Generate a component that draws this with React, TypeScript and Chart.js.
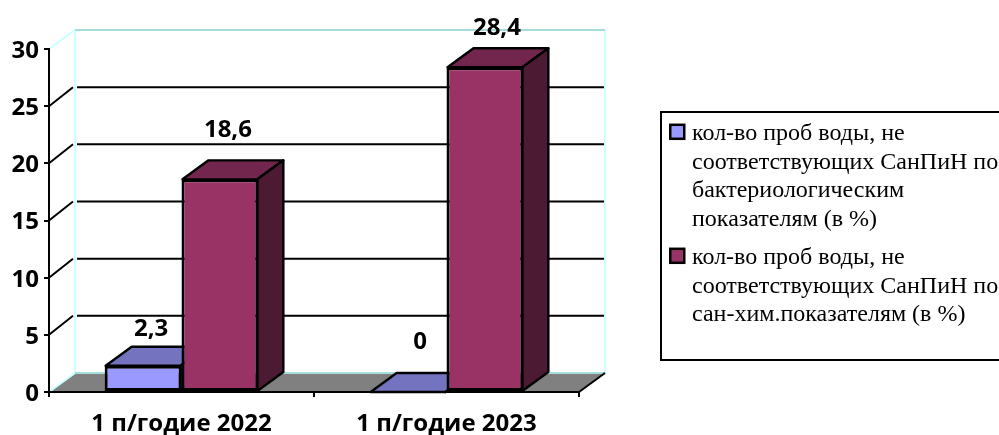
import React, { useEffect, useRef } from "react";
import { Chart, registerables } from "chart.js";

Chart.register(...registerables);

const categories = ["1 п/годие 2022", "1 п/годие 2023"];
const bacteriological = [2.3, 0];
const chemical = [18.6, 28.4];
const valueLabels = [["2,3", "0"], ["18,6", "28,4"]];
const yTicks = [0, 5, 10, 15, 20, 25, 30];
const legendBacterio = ["кол-во проб воды, не", "соответствующих СанПиН по", "бактериологическим", "показателям (в %)"];
const legendChem = ["кол-во проб воды, не", "соответствующих СанПиН по", "сан-хим.показателям (в %)"];

const DX = 26;
const DY = 19;
const BOLD = '"Open Sans", sans-serif';
const SERIF = '"Liberation Serif", serif';

const labelOffsets = [[[8, -30], [12, -43]], [[8, -42], [12, -32]]];

const scene = {
  id: "scene",
  beforeDraw(chart: any) {
    const { ctx, chartArea: a, scales } = chart;
    const y = scales.y;
    ctx.save();
    // floor
    ctx.fillStyle = "#808080";
    ctx.beginPath();
    ctx.moveTo(a.left, a.bottom);
    ctx.lineTo(a.left + DX, a.bottom - DY);
    ctx.lineTo(a.right + DX, a.bottom - DY);
    ctx.lineTo(a.right, a.bottom);
    ctx.closePath();
    ctx.fill();
    // walls
    ctx.lineWidth = 2;
    ctx.strokeStyle = "#ccffff";
    ctx.beginPath();
    ctx.moveTo(a.left, a.top);
    ctx.lineTo(a.left + DX, a.top - DY);
    ctx.lineTo(a.left + DX, a.bottom - DY);
    ctx.lineTo(a.left, a.bottom);
    ctx.moveTo(a.right + DX, a.top - DY);
    ctx.lineTo(a.right + DX, a.bottom - DY);
    ctx.stroke();
    ctx.strokeStyle = "#a6dcdc";
    ctx.beginPath();
    ctx.moveTo(a.left + DX, a.top - DY);
    ctx.lineTo(a.right + DX, a.top - DY);
    ctx.moveTo(a.left + DX, a.bottom - DY);
    ctx.lineTo(a.right + DX, a.bottom - DY);
    ctx.stroke();
    // gridlines
    ctx.strokeStyle = "#000";
    for (const v of yTicks) {
      if (v === 0 || v === 30) continue;
      const py = y.getPixelForValue(v);
      ctx.beginPath();
      ctx.moveTo(a.left, py);
      ctx.lineTo(a.left + DX - 2, py - DY);
      ctx.moveTo(a.left + DX + 2, py - DY);
      ctx.lineTo(a.right + DX - 1, py - DY);
      ctx.stroke();
    }
    // floor right edge
    ctx.beginPath();
    ctx.moveTo(a.right, a.bottom);
    ctx.lineTo(a.right + DX, a.bottom - DY);
    ctx.strokeStyle = "#000";
    ctx.stroke();
    ctx.restore();
  },
  beforeDatasetsDraw(chart: any) {
    const { ctx } = chart;
    const tops = ["#7373bf", "#73264d"];
    const sides = ["#4d4d80", "#4d1a33"];
    ctx.save();
    ctx.lineWidth = 2.4;
    ctx.strokeStyle = "#000";
    ctx.lineJoin = "round";
    chart.data.datasets.forEach((_: any, di: number) => {
      chart.getDatasetMeta(di).data.forEach((bar: any) => {
        const l = bar.x - bar.width / 2 + 1;
        const r = bar.x + bar.width / 2 - 1;
        const t = bar.y;
        const b = bar.base;
        ctx.fillStyle = tops[di];
        ctx.beginPath();
        ctx.moveTo(l, t);
        ctx.lineTo(l + DX, t - DY);
        ctx.lineTo(r + DX, t - DY);
        ctx.lineTo(r, t);
        ctx.closePath();
        ctx.fill();
        ctx.stroke();
        ctx.fillStyle = sides[di];
        ctx.beginPath();
        ctx.moveTo(r, t);
        ctx.lineTo(r + DX, t - DY);
        ctx.lineTo(r + DX, b - DY);
        ctx.lineTo(r, b);
        ctx.closePath();
        ctx.fill();
        ctx.stroke();
      });
    });
    ctx.restore();
  },
  afterDatasetsDraw(chart: any) {
    const { ctx } = chart;
    ctx.save();
    ctx.fillStyle = "#000";
    ctx.font = `bold 24px ${BOLD}`;
    ctx.textAlign = "center";
    ctx.textBaseline = "alphabetic";
    chart.data.datasets.forEach((_: any, di: number) => {
      chart.getDatasetMeta(di).data.forEach((bar: any, i: number) => {
        const [ox, oy] = labelOffsets[di][i];
        ctx.fillText(valueLabels[di][i], bar.x + ox, bar.y + oy);
      });
    });
    ctx.restore();
  },
  afterDraw(chart: any) {
    const { ctx } = chart;
    ctx.save();
    ctx.strokeStyle = "#000";
    ctx.lineWidth = 2;
    ctx.beginPath();
    ctx.moveTo(1000, 112);
    ctx.lineTo(661, 112);
    ctx.lineTo(661, 360);
    ctx.lineTo(1000, 360);
    ctx.stroke();
    ctx.font = `24px ${SERIF}`;
    ctx.textAlign = "left";
    ctx.textBaseline = "alphabetic";
    const block = (lines: string[], y0: number, color: string) => {
      ctx.fillStyle = color;
      ctx.lineWidth = 2.5;
      ctx.fillRect(670.25, y0 - 15.2, 14, 14);
      ctx.strokeRect(670.25, y0 - 15.2, 14, 14);
      ctx.fillStyle = "#000";
      lines.forEach((s, i) => ctx.fillText(s, 692, y0 + i * 28.5));
    };
    block(legendBacterio, 140, "#9999ff");
    block(legendChem, 264, "#993366");
    ctx.restore();
  },
};

export default function App() {
  const ref = useRef<HTMLCanvasElement>(null);
  useEffect(() => {
    const chart = new Chart(ref.current!, {
      type: "bar",
      data: {
        labels: categories,
        datasets: [
          { label: legendBacterio.join(" "), data: bacteriological, backgroundColor: "#9999ff" },
          { label: legendChem.join(" "), data: chemical, backgroundColor: "#993366" },
        ],
      },
      options: {
        animation: false,
        responsive: false,
        devicePixelRatio: 1,
        layout: { padding: { top: 49, left: 0, right: 420, bottom: 0 } },
        datasets: {
          bar: {
            categoryPercentage: 0.58,
            barPercentage: 1,
            borderColor: "#000",
            borderWidth: 3,
            borderSkipped: false,
          },
        },
        plugins: { legend: { display: false }, tooltip: { enabled: false }, title: { display: false } },
        scales: {
          x: {
            afterFit: (s: any) => { s.height = 43; },
            grid: { drawOnChartArea: false, drawTicks: true, color: "#000", tickLength: 5, lineWidth: 2 },
            border: { display: true, color: "#000", width: 2 },
            ticks: { color: "#000", font: { family: BOLD, weight: "bold", size: 24 }, padding: 13, maxRotation: 0 },
          },
          y: {
            min: 0,
            max: 30,
            afterFit: (s: any) => { s.width = 49; },
            afterBuildTicks: (s: any) => { s.ticks = yTicks.map((value) => ({ value })); },
            grid: { drawOnChartArea: false, drawTicks: true, color: "#000", tickLength: 5, lineWidth: 2 },
            border: { display: true, color: "#000", width: 2 },
            ticks: { color: "#000", font: { family: BOLD, weight: "bold", size: 24 }, padding: 5, labelOffset: 2 },
          },
        },
      } as any,
      plugins: [scene],
    });
    return () => chart.destroy();
  }, []);
  return (
    <div style={{ position: "fixed", left: 0, top: 0, width: 999, height: 435, background: "#fff" }}>
      <canvas ref={ref} width={999} height={435} style={{ display: "block" }} />
    </div>
  );
}
